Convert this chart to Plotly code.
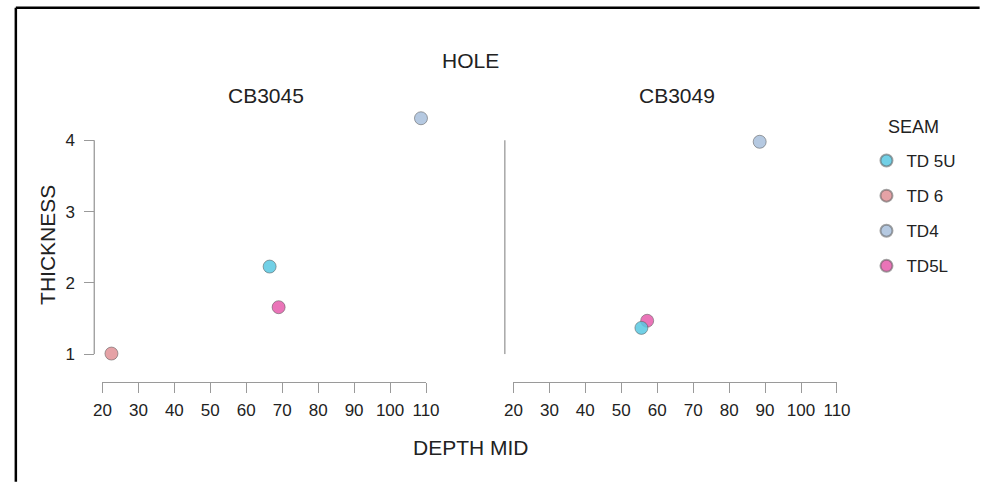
import plotly.graph_objects as go

# ---- data ----
seams = ["TD 5U", "TD 6", "TD4", "TD5L"]
colors = {"TD 5U": "rgba(88,200,226,0.85)", "TD 6": "rgba(224,146,150,0.85)",
          "TD4": "rgba(168,192,220,0.85)", "TD5L": "rgba(230,92,172,0.85)"}
holes = ["CB3045", "CB3049"]
cb3045_seam = ["TD 6", "TD 5U", "TD5L", "TD4"]
cb3045_depth = [22.5, 66.5, 69.0, 108.6]
cb3045_thick = [1.01, 2.23, 1.66, 4.31]
cb3049_seam = ["TD5L", "TD 5U", "TD4"]
cb3049_depth = [57.2, 55.6, 88.5]
cb3049_thick = [1.47, 1.37, 3.98]
x_ticks = [20, 30, 40, 50, 60, 70, 80, 90, 100, 110]
y_ticks = [1, 2, 3, 4]

W, H = 984, 487
FONT = "Liberation Sans, Arial, sans-serif"
TXT = "#222222"
AX = "#9a9a9a"

def px(x):
    return x / W

def py(y):
    return 1 - y / H

Y_TOP = 4.45
unit = (361.7 - 143.3) / 3
y_top_px = 361.7 - (Y_TOP - 1) * unit

fig = go.Figure()
panels = [(cb3045_seam, cb3045_depth, cb3045_thick, "x", "y"),
          (cb3049_seam, cb3049_depth, cb3049_thick, "x2", "y2")]
shown = set()
for seam_list, dep, thk, xa, ya in panels:
    for s, d, t in zip(seam_list, dep, thk):
        fig.add_trace(go.Scatter(
            x=[d], y=[t], xaxis=xa, yaxis=ya, mode="markers", name=s,
            legendgroup=s, showlegend=(s not in shown),
            legendrank=seams.index(s) + 1,
            marker=dict(size=13, color=colors[s],
                        line=dict(color="rgba(90,90,90,0.55)", width=1)),
            cliponaxis=False))
        shown.add(s)

xcommon = dict(range=[20, 110], tickvals=x_ticks, ticks="outside", ticklen=10,
               tickcolor=AX, tickwidth=1.3, showline=True, linecolor=AX, linewidth=1.3,
               showgrid=False, zeroline=False, anchor="free", position=py(390),
               tickfont=dict(family=FONT, size=17, color=TXT), ticklabelstandoff=2)
ycommon = dict(range=[1, Y_TOP], domain=[py(361.7), py(y_top_px)], showgrid=False,
               zeroline=False, showline=False, anchor="free")

fig.update_layout(
    width=W, height=H, margin=dict(l=0, r=0, t=0, b=0),
    paper_bgcolor="white", plot_bgcolor="rgba(0,0,0,0)",
    font=dict(family=FONT, color=TXT),
    xaxis=dict(domain=[px(95.7), px(427)], **xcommon),
    xaxis2=dict(domain=[px(516.5), px(847.8)], **xcommon),
    yaxis=dict(position=px(87.3), tickvals=y_ticks, ticks="outside", ticklen=10,
               tickcolor=AX, tickwidth=1.3, ticklabelstandoff=6,
               tickfont=dict(family=FONT, size=17, color=TXT), **ycommon),
    yaxis2=dict(position=px(507.7), showticklabels=False, ticks="", **ycommon),
    showlegend=True,
    legend=dict(x=px(878), y=py(146), xanchor="left", yanchor="top",
                font=dict(family=FONT, size=17, color=TXT),
                tracegroupgap=10, bgcolor="rgba(0,0,0,0)", itemsizing="constant"),
)

# range-frame y axis lines (span only the tick range 1..4)
fig.add_shape(type="line", xref="paper", yref="y", x0=px(87.3), x1=px(87.3),
              y0=min(y_ticks), y1=max(y_ticks), line=dict(color=AX, width=1.3))
fig.add_shape(type="line", xref="paper", yref="y2", x0=px(507.7), x1=px(507.7),
              y0=min(y_ticks), y1=max(y_ticks), line=dict(color=AX, width=1.3))

ann = [
    ("HOLE", 473, 62, 0, 21),
    (holes[0], 263, 97, 0, 21),
    (holes[1], 684, 97, 0, 21),
    ("DEPTH MID", 473, 457, 0, 21),
    ("THICKNESS", 40, 250, -90, 21),
    ("SEAM", 926, 130, 0, 18),
]
for text, ax_, ay_, rot, fs in ann:
    fig.add_annotation(text=text, x=px(ax_), y=py(ay_), xref="paper", yref="paper",
                       showarrow=False, textangle=rot, xanchor="center", yanchor="middle",
                       font=dict(family=FONT, size=fs, color=TXT))

# outer frame (top and left edges)
fig.add_shape(type="line", xref="paper", yref="paper", x0=px(7), x1=1.01,
              y0=py(8), y1=py(8), line=dict(color="black", width=2.5))
fig.add_shape(type="line", xref="paper", yref="paper", x0=px(7), x1=px(7),
              y0=py(8), y1=-0.01, line=dict(color="black", width=2.5))

fig.write_html("out.html", config={"displayModeBar": False},
               post_script="document.body.style.margin='0';document.body.style.overflow='hidden';")
